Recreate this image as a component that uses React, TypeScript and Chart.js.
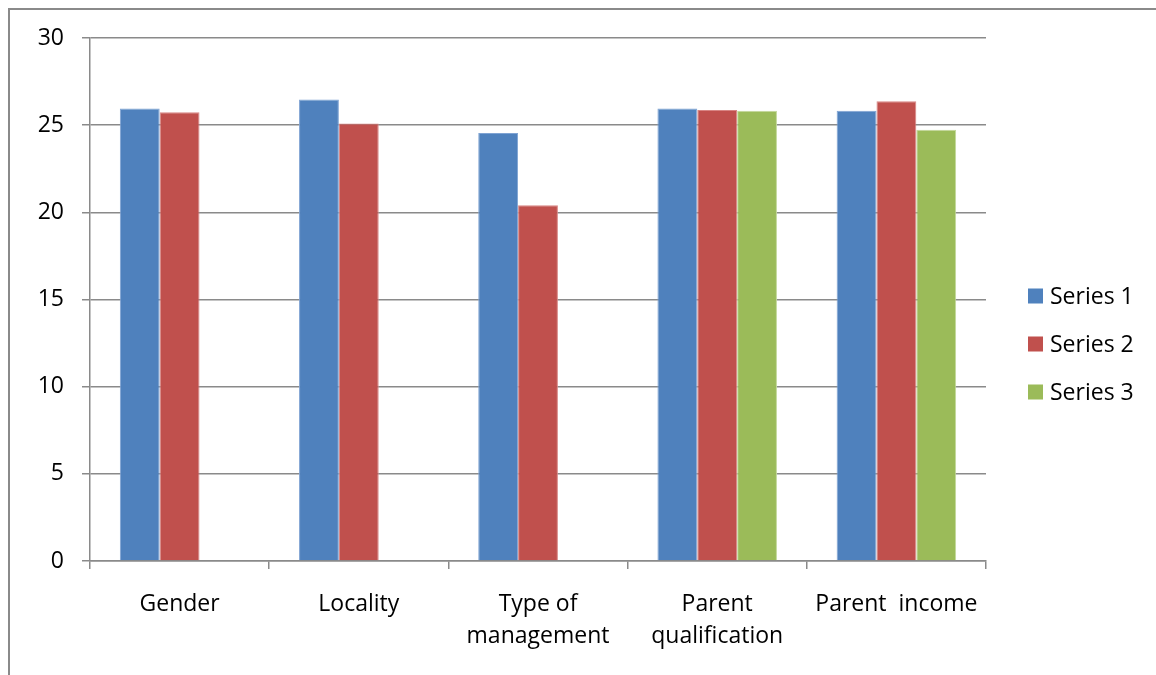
import React, { useEffect, useRef } from "react";
import { Chart, registerables } from "chart.js";

Chart.register(...registerables);

const categories: (string | string[])[] = [
  "Gender",
  "Locality",
  ["Type of", "management"],
  ["Parent", "qualification"],
  "Parent  income",
];
const series1: number[] = [25.95, 26.47, 24.55, 25.95, 25.83];
const series2: number[] = [25.74, 25.09, 20.4, 25.87, 26.37];
const series3: (number | null)[] = [null, null, null, 25.82, 24.74];
const seriesNames: string[] = ["Series 1", "Series 2", "Series 3"];
const yTicks: number[] = [0, 5, 10, 15, 20, 25, 30];

const FONT = "'Open Sans', sans-serif";
const FSIZE = 23;

const legendPlugin = {
  id: "customLegend",
  afterDraw(chart: any) {
    const ctx = chart.ctx;
    ctx.save();
    ctx.font = `${FSIZE}px ${FONT}`;
    ctx.textBaseline = "middle";
    ctx.textAlign = "left";
    const n = chart.data.datasets.length;
    const spacing = 48;
    const cy = 344;
    chart.data.datasets.forEach((ds: any, i: number) => {
      const y = cy + (i - (n - 1) / 2) * spacing;
      ctx.fillStyle = ds.backgroundColor;
      ctx.fillRect(1028, y - 7.5, 15, 15);
      ctx.fillStyle = "#000";
      ctx.fillText(ds.label, 1050, y + 1);
    });
    ctx.restore();
  },
};

export default function App() {
  const ref = useRef<HTMLCanvasElement | null>(null);
  useEffect(() => {
    if (!ref.current) return;
    const chart = new Chart(ref.current, {
      type: "bar",
      data: {
        labels: categories,
        datasets: [
          { label: seriesNames[0], data: series1, backgroundColor: "#4F81BD", borderColor: "#7FA3D3", borderWidth: 1 },
          { label: seriesNames[1], data: series2, backgroundColor: "#C0504D", borderColor: "#D88583", borderWidth: 1 },
          { label: seriesNames[2], data: series3, backgroundColor: "#9BBB59", borderColor: "#C3D89A", borderWidth: 1 },
        ],
      },
      options: {
        animation: false,
        responsive: false,
        maintainAspectRatio: false,
        layout: { padding: { left: 0, top: 38, right: 170, bottom: 0 } },
        datasets: { bar: { categoryPercentage: 0.667, barPercentage: 1 } },
        plugins: { legend: { display: false }, tooltip: { enabled: false } },
        scales: {
          x: {
            grid: { drawOnChartArea: false, drawTicks: true, tickLength: 8, color: "#8a8a8a", lineWidth: 1.5, offset: true },
            border: { display: true, color: "#8a8a8a", width: 1.5 },
            ticks: {
              color: "#000",
              font: { family: FONT, size: FSIZE, lineHeight: 1.4 },
              padding: 19,
              maxRotation: 0,
              autoSkip: false,
            },
            afterFit: (scale: any) => {
              scale.height = 675 - 561;
            },
          },
          y: {
            min: 0,
            max: 30,
            afterBuildTicks: (scale: any) => {
              scale.ticks = yTicks.map((v) => ({ value: v }));
            },
            grid: { color: "#8a8a8a", lineWidth: 1.5, tickLength: 8, drawTicks: true },
            border: { display: true, color: "#8a8a8a", width: 1.5 },
            ticks: {
              color: "#000",
              font: { family: FONT, size: FSIZE },
              padding: 18,
            },
            afterFit: (scale: any) => {
              scale.width = 90;
            },
          },
        },
      },
      plugins: [legendPlugin],
    });
    return () => chart.destroy();
  }, []);

  return (
    <div style={{ position: "fixed", left: 0, top: 0, width: 1156, height: 675, background: "#fff", overflow: "hidden" }}>
      <div
        style={{
          position: "absolute",
          left: 8,
          top: 8,
          width: 1160,
          height: 680,
          borderLeft: "2px solid #8a8a8a",
          borderTop: "2px solid #8a8a8a",
        }}
      />
      <canvas ref={ref} width={1156} height={675} style={{ position: "absolute", left: 0, top: 0 }} />
    </div>
  );
}
